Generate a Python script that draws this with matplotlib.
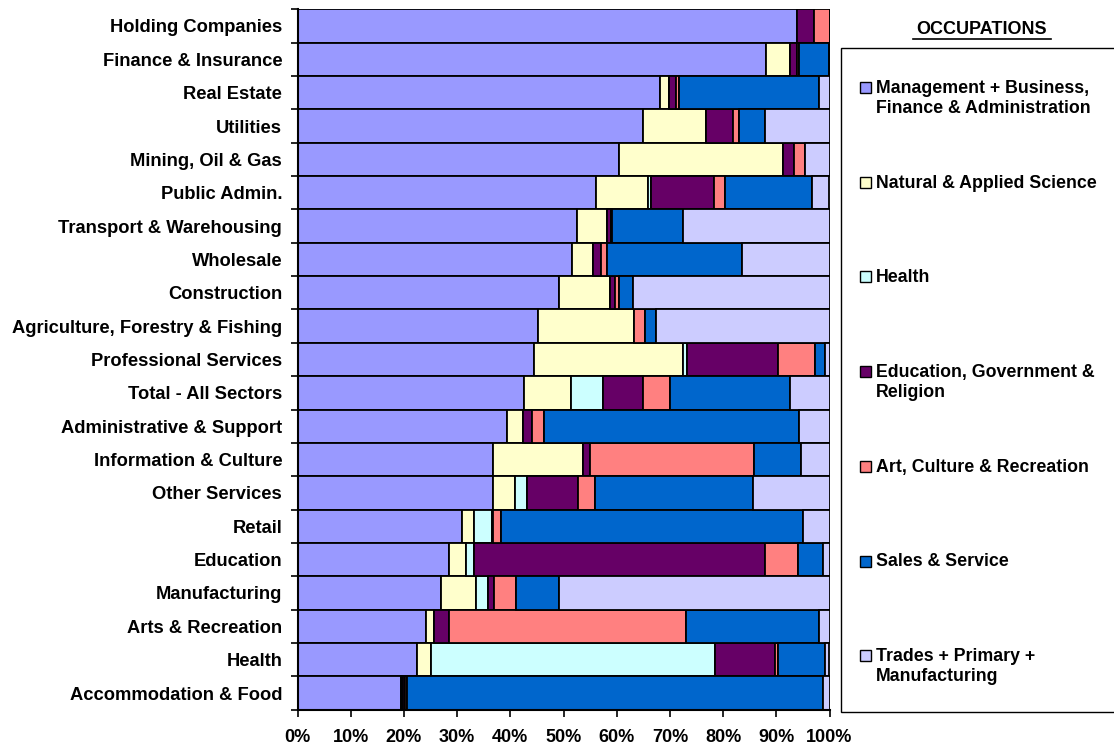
import numpy as np
import matplotlib
matplotlib.use("Agg")
import matplotlib.pyplot as plt
from matplotlib.patches import Rectangle

plt.rcParams['font.family'] = ['Liberation Sans', 'DejaVu Sans']
plt.rcParams['font.weight'] = 'bold'

# sectors, top to bottom
sectors = ["Holding Companies", "Finance & Insurance", "Real Estate", "Utilities",
           "Mining, Oil & Gas", "Public Admin.", "Transport & Warehousing", "Wholesale",
           "Construction", "Agriculture, Forestry & Fishing", "Professional Services",
           "Total - All Sectors", "Administrative & Support", "Information & Culture",
           "Other Services", "Retail", "Education", "Manufacturing", "Arts & Recreation",
           "Health", "Accommodation & Food"]

# occupation shares (%) per sector
management = [93.9, 88.1, 68.1, 65.0, 60.4, 56.1, 52.5, 51.6, 49.1, 45.3, 44.4,
              42.5, 39.3, 36.7, 36.7, 30.9, 28.4, 26.9, 24.1, 22.4, 19.5]
natural_sci = [0.0, 4.4, 1.7, 11.8, 30.8, 9.7, 5.6, 3.9, 9.7, 17.9, 28.0,
               8.9, 3.0, 16.9, 4.2, 2.2, 3.3, 6.6, 1.6, 2.7, 0.2]
health = [0.0, 0.0, 0.0, 0.0, 0.0, 0.6, 0.0, 0.0, 0.0, 0.0, 0.9,
          6.0, 0.0, 0.0, 2.2, 3.4, 1.4, 2.4, 0.0, 53.3, 0.1]
education_gov = [3.2, 1.4, 1.4, 5.1, 2.1, 11.8, 0.8, 1.5, 0.8, 0.0, 17.1,
                 7.6, 1.8, 1.3, 9.7, 0.3, 54.8, 1.0, 2.7, 11.4, 0.4]
art_culture = [2.9, 0.3, 0.6, 1.1, 2.1, 2.1, 0.3, 1.1, 0.8, 2.1, 6.8,
               5.0, 2.2, 31.0, 3.2, 1.4, 6.2, 4.1, 44.6, 0.6, 0.3]
sales_service = [0.0, 5.7, 26.2, 4.8, 0.0, 16.5, 13.2, 25.4, 2.7, 2.1, 1.9,
                 22.5, 47.9, 8.8, 29.7, 56.9, 4.7, 8.1, 25.0, 8.8, 78.3]
trades = [0.0, 0.1, 2.0, 12.2, 4.6, 3.2, 27.6, 16.5, 36.9, 32.6, 0.9,
          7.5, 5.8, 5.3, 14.3, 4.9, 1.2, 50.9, 2.0, 0.8, 1.2]

series_names = ["Management + Business,\nFinance & Administration",
                "Natural & Applied Science", "Health",
                "Education, Government &\nReligion", "Art, Culture & Recreation",
                "Sales & Service", "Trades + Primary +\nManufacturing"]
series_vals = [management, natural_sci, health, education_gov, art_culture,
               sales_service, trades]
colors = ["#9999FF", "#FFFFCC", "#CCFFFF", "#660066", "#FF8080", "#0066CC", "#CCCCFF"]

W, H = 1114, 747
fig = plt.figure(figsize=(W / 100, H / 100), dpi=100)
ax = fig.add_axes([297.5 / W, 1 - 709.7 / H, 532 / W, 700.4 / H])

y = np.arange(len(sectors))
left = np.zeros(len(sectors))
for vals, col in zip(series_vals, colors):
    vals = np.array(vals)
    ax.barh(y, vals, left=left, height=1.0, color=col, edgecolor="black", linewidth=1.3)
    left += vals

ax.set_xlim(0, 100)
ax.set_ylim(len(sectors) - 0.5, -0.5)

ax.set_yticks(y)
ax.set_yticklabels(sectors, fontsize=13.2, fontweight="bold")
ax.tick_params(axis="y", which="major", length=0, pad=11)
ax.set_yticks(np.arange(len(sectors) + 1) - 0.5, minor=True)
ax.tick_params(axis="y", which="minor", length=5, width=1.2, direction="out")

ax.set_xticks(np.arange(0, 101, 10))
ax.set_xticklabels([f"{v}%" for v in range(0, 101, 10)], fontsize=13, fontweight="bold")
ax.tick_params(axis="x", length=5, width=1.2, pad=9)

for s in ["top", "right"]:
    ax.spines[s].set_visible(False)
ax.spines["left"].set_linewidth(1.5)
ax.spines["bottom"].set_linewidth(1.5)

# legend drawn by hand to match the layout
box = Rectangle((841 / W, 1 - 712 / H), 300 / W, (712 - 48) / H, transform=fig.transFigure,
                facecolor="white", edgecolor="black", linewidth=1.0)
fig.patches.append(box)
fig.text(982 / W, 1 - 29 / H, "OCCUPATIONS", ha="center", va="center",
         fontsize=13, fontweight="bold")
fig.add_artist(plt.Line2D([913 / W, 1051 / W], [1 - 39 / H, 1 - 39 / H],
                          transform=fig.transFigure, color="black", linewidth=1.2))
for i, (name, col) in enumerate(zip(series_names, colors)):
    yc = 87 + 94.7 * i
    sq = Rectangle((860 / W, 1 - (yc + 6) / H), 11 / W, 11 / H, transform=fig.transFigure,
                   facecolor=col, edgecolor="black", linewidth=1.0)
    fig.patches.append(sq)
    fig.text(876 / W, 1 - (yc - 7) / H, name, ha="left", va="top", fontsize=12.8,
             fontweight="bold", linespacing=1.2)

fig.savefig("out.png", dpi=100)
